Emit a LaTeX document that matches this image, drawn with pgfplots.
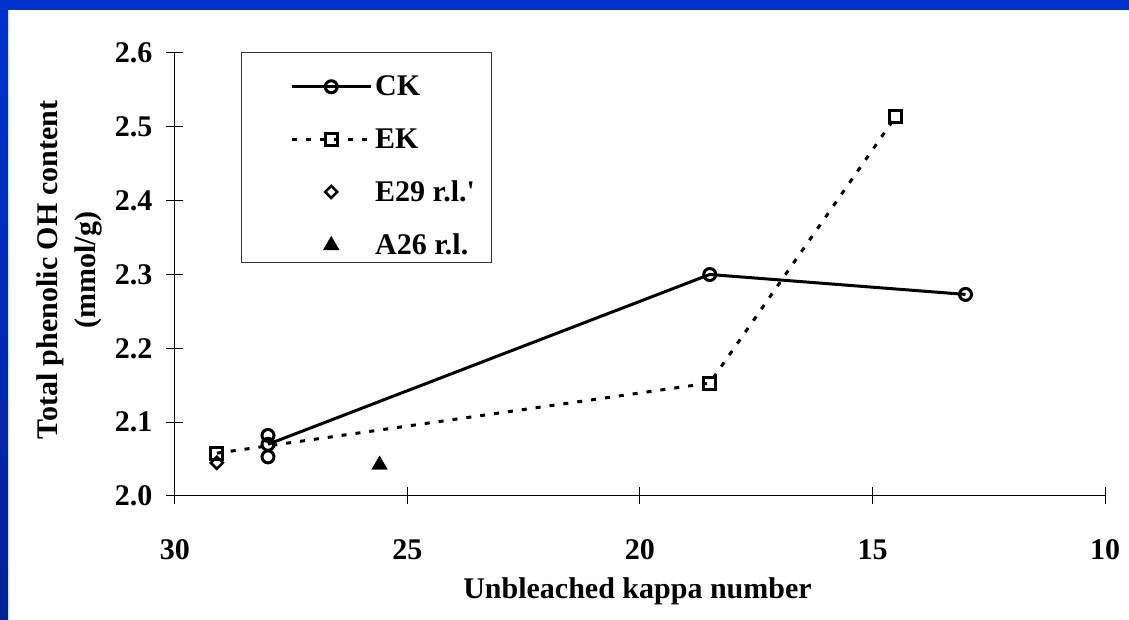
\documentclass[border=0pt]{standalone}
\usepackage{fontspec}
\setmainfont{Liberation Serif}
\usepackage{pgfplots}
\pgfplotsset{compat=1.18}
\definecolor{slideblue}{RGB}{0,51,204}
\definecolor{slidebluedark}{RGB}{0,34,150}
\begin{document}
\begin{tikzpicture}[x=1bp,y=1bp]
\path[use as bounding box] (0,0) rectangle (1129,620);
\fill[white] (0,0) rectangle (1129,620);
\fill[slideblue] (0,610) rectangle (1129,620);
\shade[top color=slideblue,bottom color=slidebluedark] (0,0) rectangle (8,620);
\begin{axis}[
  at={(175bp,124bp)}, anchor=south west, scale only axis,
  width=930bp, height=443bp,
  x dir=reverse, xmin=10, xmax=30, ymin=2.0, ymax=2.6,
  axis x line*=bottom, axis y line*=left,
  axis line style={black, line width=1bp},
  xtick={10,15,20,25,30}, xticklabels={10,15,20,25,30},
  ytick={2.0,2.1,2.2,2.3,2.4,2.5,2.6},
  yticklabels={2.0,2.1,2.2,2.3,2.4,2.5,2.6},
  tick align=center, major tick length=17bp,
  tick style={black, line width=1bp},
  font=\fontsize{30bp}{38bp}\selectfont\bfseries,
  xticklabel style={anchor=north, inner sep=0pt, yshift=-35bp},
  yticklabel style={anchor=east, inner sep=0pt, xshift=-14bp},
  xlabel={Unbleached kappa number},
  xlabel style={at={([yshift=-95bp]axis description cs:0.4973,0)}, anchor=center},
  ylabel={Total phenolic OH content\\(mmol/g)},
  ylabel style={at={([xshift=-106bp]axis description cs:0,0.51)}, anchor=center, align=center},
  legend style={at={(0.1237,0.9484)}, anchor=north west, draw=none, fill=none,
    inner sep=0bp, row sep=31.1bp,
    nodes={inner xsep=3bp, inner ysep=0bp}},
  legend cell align=left,
  legend image code/.code={\draw[mark repeat=2,mark phase=2,#1] plot coordinates {(0bp,0bp)(39.5bp,0bp)(79bp,0bp)};},
]
\draw[black!80, line width=1bp] (axis description cs:0.071,1) rectangle (axis description cs:0.3398,0.526);
\addplot[black, line width=3bp, mark=o, mark size=6bp, mark options={fill=white, line width=3bp}]
  coordinates {(28,2.070) (18.5,2.300) (13,2.273)};
\addlegendentry{CK}
\addplot[black, only marks, mark=o, mark size=6bp, mark options={fill=white, line width=3bp}, forget plot]
  coordinates {(28,2.082) (28,2.053)};
\addplot[black, line width=3bp, dash pattern=on 5bp off 9bp, mark=square, mark size=6bp, mark options={solid, fill=white, line width=3bp}]
  coordinates {(29.1,2.058) (18.5,2.153) (14.5,2.514)};
\addlegendentry{EK}
\addplot[black, only marks, mark=square, mark size=4.3bp, mark options={fill=white, line width=2.5bp, rotate=45}]
  coordinates {(29.1,2.045)};
\addlegendentry{E29 r.l.\textquotesingle}
\addplot[black, only marks, mark=triangle*, mark size=9bp]
  coordinates {(25.6,2.042)};
\addlegendentry{A26 r.l.}
\end{axis}
\end{tikzpicture}
\end{document}
